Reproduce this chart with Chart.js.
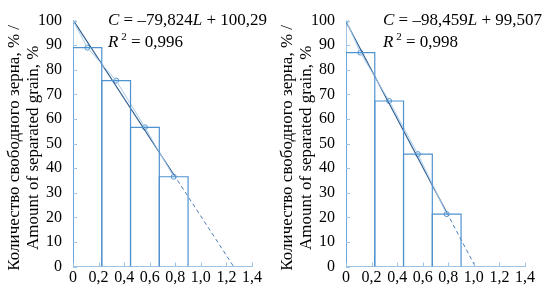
<!DOCTYPE html>
<html>
<head>
<meta charset="utf-8">
<script src="https://cdn.jsdelivr.net/npm/chart.js@4.4.0/dist/chart.umd.min.js"></script>
<style>
  html, body { margin: 0; padding: 0; background: #fff; }
  #wrap { display: flex; width: 546px; height: 288px; }
  canvas { display: block; }
</style>
</head>
<body>
<div id="wrap">
  <canvas id="chartA" width="273" height="288"></canvas>
  <canvas id="chartB" width="273" height="288"></canvas>
</div>
<script>
// data
const xTicks = [0, 0.2, 0.4, 0.6, 0.8, 1.0, 1.2, 1.4];
const barEdges = [0, 0.225, 0.45, 0.675, 0.9];
const pointX = [0, 0.1125, 0.3375, 0.5625, 0.7875];

const barsA = [89, 75.6, 56.6, 36.5];
const pointsA = [100, 89, 75.6, 56.6, 36.5];
const trendXA = [0, 0.7875, 1.256];
const trendYA = [100.29, 37.43, 0];
const eqA = ["–79,824", "100,29", "0,996"];

const barsB = [87, 67.3, 45.7, 21.3];
const pointsB = [100, 87, 67.3, 45.7, 21.3];
const trendXB = [0, 0.7875, 1.011];
const trendYB = [99.507, 21.97, 0];
const eqB = ["–98,459", "99,507", "0,998"];

const yTitle = ["Количество свободного зерна, % /\u00a0\u00a0", "Amount of separated grain, %\u00a0\u00a0"];

const FONT = '"Liberation Serif", "Times New Roman", serif';
const AXIS = "#9dc3e6";
const BAR = "#4f92d0";

// small tick marks pointing into the plot
const innerTicks = {
  id: "innerTicks",
  afterDraw(chart) {
    const ctx = chart.ctx;
    const xs = chart.scales.x, ys = chart.scales.y;
    ctx.save();
    ctx.strokeStyle = AXIS;
    ctx.lineWidth = 1;
    ctx.beginPath();
    xs.ticks.forEach(t => {
      const px = Math.round(xs.getPixelForValue(t.value)) + 0.5;
      ctx.moveTo(px, ys.bottom);
      ctx.lineTo(px, ys.bottom - 4);
    });
    ys.ticks.forEach(t => {
      const py = Math.round(ys.getPixelForValue(t.value)) + 0.5;
      ctx.moveTo(xs.left, py);
      ctx.lineTo(xs.left + 4, py);
    });
    ctx.stroke();
    ctx.restore();
  }
};

// regression equation text
const equation = {
  id: "equation",
  afterDraw(chart, args, opts) {
    const ctx = chart.ctx;
    const size = 17;
    let x = chart.chartArea.left + opts.dx;
    const put = (t, italic, sup, y) => {
      ctx.font = (italic ? "italic " : "") + (sup ? 11 : size) + "px " + FONT;
      ctx.fillText(t, x, sup ? y - 7 : y);
      x += ctx.measureText(t).width;
    };
    ctx.save();
    ctx.fillStyle = "#000";
    ctx.textBaseline = "alphabetic";
    put("C", true, false, 25);
    put(" = " + opts.eq[0], false, false, 25);
    put("L", true, false, 25);
    put(" + " + opts.eq[1], false, false, 25);
    x = chart.chartArea.left + opts.dx;
    put("R", true, false, 47);
    put(" 2", false, true, 47);
    put(" = " + opts.eq[2], false, false, 47);
    ctx.restore();
  }
};

function makeChart(id, bars, points, trendX, trendY, eq, dx) {
  const datasets = [];

  // bars as outlined rectangles on the linear x axis
  bars.forEach((h, i) => {
    datasets.push({
      data: [
        { x: barEdges[i], y: 0 }, { x: barEdges[i], y: h },
        { x: barEdges[i + 1], y: h }, { x: barEdges[i + 1], y: 0 }
      ],
      showLine: true,
      borderColor: BAR,
      borderWidth: 1.2,
      pointRadius: 0,
      fill: false
    });
  });

  // measured points, thin light line
  datasets.push({
    data: pointX.map((x, i) => ({ x: x, y: points[i] })),
    showLine: true,
    borderColor: "#a9cbe9",
    borderWidth: 1,
    pointRadius: 0
  });

  // regression line: solid over data range, dashed extrapolation
  datasets.push({
    data: [{ x: trendX[0], y: trendY[0] }, { x: trendX[1], y: trendY[1] }],
    showLine: true,
    borderColor: "#2f5f92",
    borderWidth: 1.2,
    pointRadius: 0
  });
  datasets.push({
    data: [{ x: trendX[1], y: trendY[1] }, { x: trendX[2], y: trendY[2] }],
    showLine: true,
    borderColor: "#4a7fb8",
    borderWidth: 1,
    borderDash: [4, 3],
    pointRadius: 0
  });

  // markers on top
  datasets.push({
    data: pointX.map((x, i) => ({ x: x, y: points[i] })),
    showLine: false,
    pointRadius: 2.5,
    pointBackgroundColor: "#fff",
    pointBorderColor: "#4f92d0",
    pointBorderWidth: 1
  });

  return new Chart(document.getElementById(id), {
    type: "scatter",
    data: { datasets: datasets },
    plugins: [innerTicks, equation],
    options: {
      responsive: false,
      animation: false,
      layout: { padding: { top: 9.5, right: 21, left: 0, bottom: 0 } },
      plugins: {
        legend: { display: false },
        tooltip: { enabled: false },
        equation: { eq: eq, dx: dx }
      },
      scales: {
        x: {
          type: "linear",
          min: 0,
          max: 1.4,
          offset: false,
          afterBuildTicks: s => { s.ticks = xTicks.map(v => ({ value: v })); },
          afterFit: s => { s.height = 21.5; },
          grid: { display: false, drawTicks: false },
          border: { display: true, color: AXIS, width: 1 },
          ticks: {
            color: "#000",
            padding: 2,
            maxRotation: 0,
            autoSkip: false,
            font: { family: FONT, size: 16 },
            callback: v => v === 0 ? "0" : v.toFixed(1).replace(".", ",")
          }
        },
        y: {
          min: 0,
          max: 100,
          afterFit: s => { s.width = 73; },
          grid: { display: false, drawTicks: false },
          border: { display: true, color: AXIS, width: 1 },
          ticks: {
            stepSize: 10,
            color: "#000",
            padding: 11,
            font: { family: FONT, size: 16 }
          },
          title: {
            display: true,
            text: yTitle,
            color: "#000",
            padding: { top: 5.5, bottom: 0 },
            font: { family: FONT, size: 17, lineHeight: 1.08 }
          }
        }
      }
    }
  });
}

makeChart("chartA", barsA, pointsA, trendXA, trendYA, eqA, 35);
makeChart("chartB", barsB, pointsB, trendXB, trendYB, eqB, 37);
</script>
</body>
</html>
